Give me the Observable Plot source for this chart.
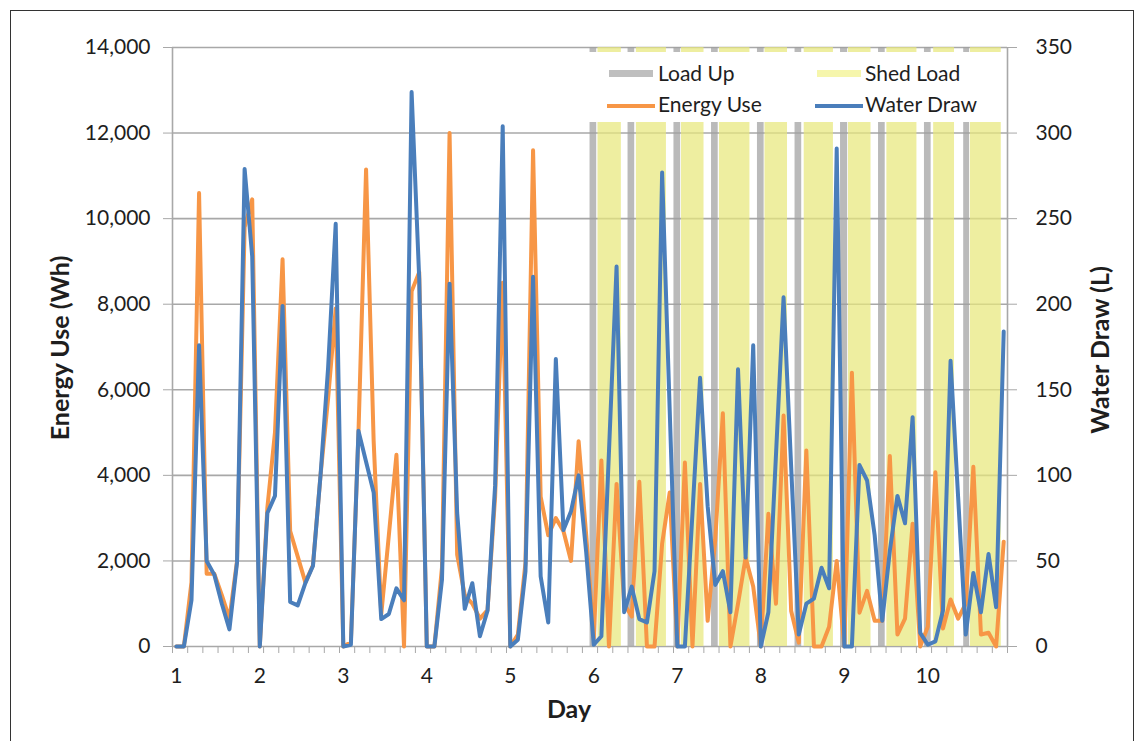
<!DOCTYPE html>
<html>
<head>
<meta charset="utf-8">
<script src="https://cdn.jsdelivr.net/npm/d3@7"></script>
<script src="https://cdn.jsdelivr.net/npm/@observablehq/plot@0.6"></script>
<style>
  html, body { margin: 0; padding: 0; background: #fff; }
  #frame { position: absolute; left: 10px; top: 10px; width: 1124px; height: 780px; border: 1.5px solid #333; box-sizing: border-box; }
  #chart { position: absolute; left: 0; top: 0; }
</style>
</head>
<body>
<div id="frame"></div>
<div id="chart"></div>
<script>
// ---------------- data ----------------
const energyTicks = [0, 2000, 4000, 6000, 8000, 10000, 12000, 14000];
const waterTicks = [0, 50, 100, 150, 200, 250, 300, 350];
const dayLabels = [1, 2, 3, 4, 5, 6, 7, 8, 9, 10];
const samplesPerDay = 11;

// Energy Use (Wh), one value per sample, 11 samples per day, days 1-10
const energy = [
  0, 0, 1500, 10600, 1700, 1700, 1200, 650, 2000, 9800, 10450,
  0, 3250, 5000, 9050, 2700, 2100, 1500, 1900, 4000, 5800, 7900,
  0, 100, 5000, 11150, 4800, 750, 2600, 4480, 0, 8300, 8750,
  0, 0, 1850, 12000, 2150, 1200, 1000, 650, 850, 3500, 8500,
  0, 280, 1950, 11600, 3500, 2600, 3000, 2700, 2000, 4800, 2600,
  200, 4350, 0, 3800, 1000, 700, 3850, 0, 0, 2400, 3600,
  0, 4300, 0, 3800, 600, 2500, 5450, 0, 1000, 2080, 1400,
  0, 3100, 1000, 5400, 830, 90, 4580, 0, 0, 460, 2000,
  0, 6400, 790, 1300, 600, 600, 4450, 280, 650, 2870, 0,
  460, 4070, 420, 1100, 650, 1000, 4200, 280, 320, 0, 2450
];

// Water Draw (L)
const water = [
  0, 0, 27, 176, 50, 42, 25, 10, 49, 279, 228,
  0, 78, 88, 199, 26, 24, 37, 47, 100, 163, 247,
  0, 1, 126, 108, 90, 16, 19, 34, 27, 324, 215,
  0, 0, 39, 212, 78, 22, 37, 6, 21, 94, 304,
  0, 4, 44, 216, 41, 14, 168, 68, 79, 100, 55,
  1, 6, 114, 222, 20, 35, 16, 14, 44, 277, 138,
  0, 0, 78, 157, 82, 36, 44, 20, 162, 52, 176,
  0, 20, 112, 204, 105, 7, 25, 28, 46, 34, 291,
  0, 0, 106, 97, 65, 15, 56, 88, 72, 134, 8,
  1, 3, 21, 167, 87, 7, 43, 20, 54, 23, 184
];

// Demand-response periods (in days)
const loadUpStart = [5.955, 6.41, 6.96, 7.41, 7.96, 8.41, 8.955, 9.41, 9.96, 10.43];
const loadUpEnd   = [6.035, 6.49, 7.04, 7.49, 8.04, 8.49, 9.04, 9.49, 10.04, 10.50];
const shedStart   = [6.05, 6.51, 7.05, 7.505, 8.05, 8.52, 9.05, 9.51, 10.07, 10.51];
const shedEnd     = [6.33, 6.87, 7.32, 7.87, 8.32, 8.87, 9.32, 9.87, 10.32, 10.88];

// ---------------- build ----------------
const yMax = energyTicks[energyTicks.length - 1];
const k = yMax / waterTicks[waterTicks.length - 1];
const rows = energy.map((e, i) => ({ day: 1 + i / samplesPerDay, energy: e, water: water[i] * k }));
const loadUp = loadUpStart.map((s, i) => ({ x1: s, x2: loadUpEnd[i], y1: 0, y2: yMax }));
const shed = shedStart.map((s, i) => ({ x1: s, x2: shedEnd[i], y1: 0, y2: yMax }));
const half = 0.5 / samplesPerDay;
const xDomain = [1 - half, 1 + (energy.length - 1) / samplesPerDay + half];
const minorTicks = d3.range(0, energy.length + 1, 2).map(j => xDomain[0] + j / samplesPerDay);

const gridColor = "#a8a8a8";
const textColor = "#1e1e1e";
const font = "Lato, 'Open Sans', sans-serif";

const svg = Plot.plot({
  width: 1147,
  height: 741,
  marginLeft: 172,
  marginRight: 140,
  marginTop: 47,
  marginBottom: 95,
  style: { fontFamily: font, fontSize: "21px", color: textColor, background: "transparent" },
  x: { domain: xDomain },
  y: { domain: [0, yMax] },
  marks: [
    Plot.ruleY(energyTicks, { stroke: gridColor, strokeWidth: 1.6 }),
    Plot.rect(shed, { x1: "x1", x2: "x2", y1: "y1", y2: "y2", fill: "#E8E87C", fillOpacity: 0.72 }),
    Plot.rect(loadUp, { x1: "x1", x2: "x2", y1: "y1", y2: "y2", fill: "#A0A0A0", fillOpacity: 0.72 }),
    Plot.ruleX(xDomain, { stroke: gridColor, strokeWidth: 1.6 }),
    Plot.axisY({ ticks: energyTicks, tickFormat: d3.format(","), tickSize: 9, tickPadding: 13, stroke: gridColor, fill: textColor, label: null }),
    Plot.axisY({ anchor: "right", ticks: energyTicks, tickFormat: d => d / k, tickSize: 9, tickPadding: 19, stroke: gridColor, fill: textColor, label: null }),
    Plot.axisX({ ticks: minorTicks, tickSize: 7, tickFormat: () => "", stroke: gridColor, label: null }),
    Plot.axisX({ ticks: dayLabels, tickSize: 0, tickPadding: 22, fill: textColor, label: null }),
    Plot.lineY(rows, { x: "day", y: "energy", stroke: "#F79646", strokeWidth: 4, strokeLinejoin: "round" }),
    Plot.lineY(rows, { x: "day", y: "water", stroke: "#4A7EBB", strokeWidth: 4, strokeLinejoin: "round" })
  ]
});

document.getElementById("chart").appendChild(svg);

// ---------------- titles & legend ----------------
const s = d3.select(svg);
s.append("text").attr("transform", "translate(63,348) rotate(-90)")
  .attr("text-anchor", "middle").attr("dominant-baseline", "middle")
  .style("font", `bold 25px ${font}`).attr("fill", textColor).text("Energy Use (Wh)");
s.append("text").attr("transform", "translate(1103,350) rotate(-90)")
  .attr("text-anchor", "middle").attr("dominant-baseline", "middle")
  .style("font", `bold 25px ${font}`).attr("fill", textColor).text("Water Draw (L)");
s.append("text").attr("x", 569).attr("y", 712)
  .attr("text-anchor", "middle").attr("dominant-baseline", "middle")
  .style("font", `bold 25px ${font}`).attr("fill", textColor).text("Day");

const lg = s.append("g").attr("text-anchor", "start");
lg.append("rect").attr("x", 587).attr("y", 52).attr("width", 416).attr("height", 70).attr("fill", "#fff");
lg.append("rect").attr("x", 609).attr("y", 70).attr("width", 44).attr("height", 7).attr("fill", "#BFBFBF");
lg.append("rect").attr("x", 817).attr("y", 70).attr("width", 44).attr("height", 7).attr("fill", "#F6F6AC");
lg.append("line").attr("x1", 607).attr("x2", 655).attr("y1", 106).attr("y2", 106).attr("stroke", "#F79646").attr("stroke-width", 4);
lg.append("line").attr("x1", 815).attr("x2", 863).attr("y1", 106).attr("y2", 106).attr("stroke", "#4A7EBB").attr("stroke-width", 4);
const legendText = [["Load Up", 658, 81], ["Shed Load", 865, 81], ["Energy Use", 658, 112], ["Water Draw", 865, 112]];
legendText.forEach(([t, x, y]) => {
  lg.append("text").attr("x", x).attr("y", y).attr("text-anchor", "start")
    .style("font", `21px ${font}`).attr("fill", textColor).text(t);
});
</script>
</body>
</html>
